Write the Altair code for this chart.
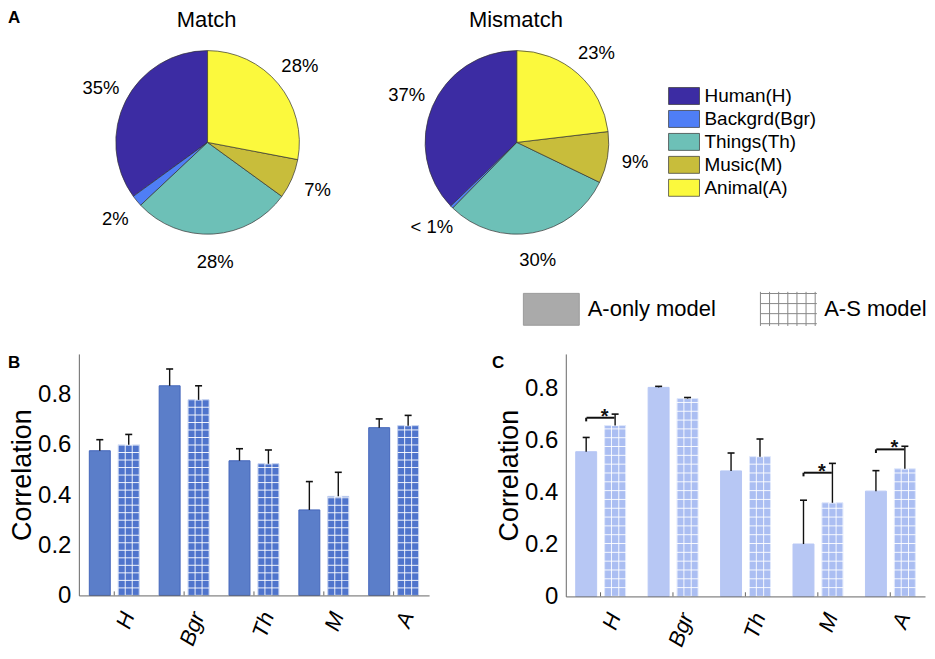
import altair as alt
import pandas as pd

FONT = "Liberation Sans"

# ---------------- Panel A data ----------------
pie_titles = ["Match", "Mismatch"]
panel_letters = ["A", "B", "C"]
pie_cats = ["Human(H)", "Backgrd(Bgr)", "Things(Th)", "Music(M)", "Animal(A)"]
pie_colors = ["#3c2ca3", "#4f7ef6", "#6dc0b7", "#c8bd3b", "#fbf93d"]
pie_order = [4, 3, 2, 1, 0]  # clockwise from 12 o'clock: Animal first
match_vals = [35, 2, 28, 7, 28]
match_labels = ["35%", "2%", "28%", "7%", "28%"]
mismatch_vals = [37, 0.5, 30, 9, 23]
mismatch_labels = ["37%", "< 1%", "30%", "9%", "23%"]

# ---------------- Panels B / C data ----------------
cats = ["H", "Bgr", "Th", "M", "A"]
models = ["A-only model", "A-S model"]
b_aonly = [0.577, 0.836, 0.537, 0.341, 0.669]
b_aonly_err = [0.621, 0.903, 0.585, 0.454, 0.704]
b_as = [0.601, 0.780, 0.525, 0.395, 0.677]
b_as_err = [0.642, 0.836, 0.580, 0.491, 0.718]
c_aonly = [0.558, 0.806, 0.484, 0.202, 0.406]
c_aonly_err = [0.613, 0.810, 0.553, 0.371, 0.485]
c_as = [0.659, 0.763, 0.539, 0.361, 0.492]
c_as_err = [0.703, 0.767, 0.607, 0.513, 0.579]
sig_cats = ["H", "M", "A"]
sig_levels = [0.689, 0.477, 0.567]
y_ticks = [0, 0.2, 0.4, 0.6, 0.8]

RECT_PATH = "M-1,-0.57H1V0.57H-1Z"
GRID_PATH = ("M-0.98,-0.54H1.04M-0.98,-0.18H1.04M-0.98,0.18H1.04M-0.98,0.54H1.04"
             "M-0.98,-0.6V0.62M-0.653,-0.6V0.62M-0.327,-0.6V0.62M0,-0.6V0.62"
             "M0.327,-0.6V0.62M0.653,-0.6V0.62M0.98,-0.6V0.62")
PIE_BOX = "M-1.8235,-1H1.8235V1H-1.8235Z"

TITLE_Y = -345  # top of the pie titles, relative to the bar panels' origin


def text_layer(txt, x, y, size, weight="normal", align="center", baseline="top"):
    return alt.Chart(pd.DataFrame({"t": [txt]})).mark_text(
        font=FONT, fontSize=size, fontWeight=weight, color="black", align=align,
        baseline=baseline).encode(text="t:N", x=alt.value(x), y=alt.value(y))


def pie(vals, labels, cx, cy, title, legend):
    df = pd.DataFrame({"cat": pie_cats, "val": vals, "lab": labels, "ord": pie_order})
    base = alt.Chart(df).encode(
        theta=alt.Theta("val:Q", stack=True),
        order=alt.Order("ord:Q", sort="ascending"),
        x=alt.value(cx), y=alt.value(cy),
    )
    arc = base.mark_arc(outerRadius=92, stroke="#333333", strokeWidth=0.7).encode(
        color=alt.Color("cat:N", scale=alt.Scale(domain=pie_cats, range=pie_colors),
                        legend=legend))
    txt = base.mark_text(radius=120, font=FONT, fontSize=18.5, color="black").encode(
        text="lab:N")
    ttl = text_layer(title, cx - 1, TITLE_Y, 22)
    return [arc, txt, ttl]


pie_legend = alt.Legend(orient="none", legendX=109, legendY=-268, title=None,
                        symbolType=PIE_BOX, symbolSize=289, symbolStrokeColor="#333333",
                        symbolStrokeWidth=0.7, labelFont=FONT, labelFontSize=19,
                        labelColor="black", labelOffset=11, rowPadding=2, padding=0)

model_legend = alt.Legend(orient="none", legendX=-43, legendY=-74, direction="horizontal",
                          title=None, symbolSize=3136, symbolStrokeWidth=1,
                          labelFont=FONT, labelFontSize=22, labelColor="black",
                          labelOffset=8, columnPadding=42, padding=0)
model_layer = alt.Chart(pd.DataFrame({"model": models})).transform_filter("false").mark_point(
    opacity=1).encode(
    shape=alt.Shape("model:N", scale=alt.Scale(domain=models, range=[RECT_PATH, GRID_PATH]),
                    legend=model_legend),
    fill=alt.Fill("model:N", scale=alt.Scale(domain=models, range=["#aaaaaa", "transparent"]),
                  legend=model_legend),
    stroke=alt.Stroke("model:N", scale=alt.Scale(domain=models, range=["#9a9a9a", "#888888"]),
                      legend=model_legend),
)


# ---------------- Panels B / C ----------------
def panel(a, a_err, s, s_err, w, h, ymax, pin, pout, opin, bw, fills, strokes, cell,
          grid_step, letter, letter_x, extra, brackets=None):
    rows = []
    for i, c in enumerate(cats):
        rows.append({"cat": c, "model": models[0], "value": a[i], "err": a_err[i]})
        rows.append({"cat": c, "model": models[1], "value": s[i], "err": s_err[i]})
    df = pd.DataFrame(rows)

    xaxis = alt.Axis(title=None, labelAngle=290, labelAlign="right", labelBaseline="middle",
                     labelFont=FONT, labelFontSize=22, labelFontStyle="italic",
                     labelColor="black", labelPadding=17, labelOffset=14, ticks=False,
                     domainColor="#666666", domainWidth=1, zindex=1)
    yaxis = alt.Axis(title="Correlation", values=y_ticks, format="~g", labelFont=FONT,
                     labelFontSize=24, labelColor="black", labelPadding=8, titleFont=FONT,
                     titleFontSize=27, titleFontWeight="normal", titleColor="black",
                     titlePadding=1, ticks=False, grid=False, domainColor="#666666",
                     domainWidth=1, zindex=1)
    yscale = alt.Scale(domain=[0, ymax], nice=False, zero=True)
    xenc = alt.X("cat:N", sort=cats,
                 scale=alt.Scale(domain=cats, paddingInner=pin, paddingOuter=pout), axis=xaxis)
    xoff = alt.XOffset("model:N", sort=models,
                       scale=alt.Scale(domain=models, paddingInner=opin, paddingOuter=0))

    def Y(field):
        return alt.Y(field, scale=yscale, axis=yaxis)

    is_aonly = alt.datum.model == models[0]
    base = alt.Chart(df)
    bars = base.mark_bar(strokeWidth=1).encode(
        x=xenc, xOffset=xoff, y=Y("value:Q"),
        fill=alt.condition(is_aonly, alt.value(fills[0]), alt.value(fills[1])),
        stroke=alt.condition(is_aonly, alt.value(strokes[0]), alt.value(strokes[1])),
    )
    as_only = base.transform_filter(alt.datum.model == models[1])
    vgrid = as_only.mark_bar(width=bw / 3, fillOpacity=0, stroke="white", strokeWidth=1,
                             strokeOpacity=0.9).encode(x=xenc, xOffset=xoff, y=Y("value:Q"))
    hgrid = as_only.transform_calculate(
        seq=f"sequence({grid_step}, datum.value, {grid_step})").transform_flatten(
        ["seq"]).mark_tick(orient="horizontal", size=bw, thickness=1, color="white",
                           opacity=0.9).encode(x=xenc, xOffset=xoff, y=Y("seq:Q"))
    err = base.mark_rule(color="#111111", strokeWidth=1.4).encode(
        x=xenc, xOffset=xoff, y=Y("value:Q"), y2="err:Q")
    caps = base.mark_tick(orient="horizontal", size=7, thickness=1.6, color="#111111",
                          opacity=1).encode(x=xenc, xOffset=xoff, y=Y("err:Q"))
    cat_ticks = alt.Chart(pd.DataFrame({"cat": cats})).mark_rule(
        color="#666666", strokeWidth=1).encode(
        x=xenc, y=alt.YDatum(0, scale=yscale, axis=yaxis), y2=alt.Y2Datum(0.016))
    let = text_layer(letter, letter_x, 9, 17, weight="bold", align="left", baseline="middle")
    layers = [bars, vgrid, hgrid, cat_ticks, err, caps]
    if brackets is not None:
        sdf = pd.DataFrame({"cat": brackets[0], "level": brackets[1], "model": models[0]})
        sb = alt.Chart(sdf)
        br = sb.mark_tick(orient="horizontal", size=cell, thickness=2, color="#111111",
                          opacity=1).encode(x=xenc, y=Y("level:Q"))
        hook = sb.transform_calculate(hook="datum.level - 0.014").mark_rule(
            color="#111111", strokeWidth=2).encode(
            x=xenc, xOffset=xoff, y=Y("level:Q"), y2="hook:Q")
        star = sb.mark_text(text="*", font=FONT, fontSize=20, fontWeight="bold",
                            color="#111111", dx=4, dy=-1).encode(x=xenc, y=Y("level:Q"))
        layers += [br, hook, star]
    layers.append(let)
    layers += extra
    return alt.layer(*layers).resolve_scale(theta="independent").properties(width=w, height=h)


extra_b = pie(match_vals, match_labels, 129, -212, pie_titles[0], None) + [
    text_layer(panel_letters[0], -71, TITLE_Y, 17, weight="bold", align="left")]
extra_c = pie(mismatch_vals, mismatch_labels, -49, -212, pie_titles[1], pie_legend) + [
    model_layer]

panel_b = panel(b_aonly, b_aonly_err, b_as, b_as_err, 351, 242, 0.963, 0.286, 0.15, 0.276,
                21, ["#5b7ec9", "#4f74cc"], ["#4466bb", "#c3d1f0"], 29, 0.03,
                panel_letters[1], -71, extra_b)
panel_c = panel(c_aonly, c_aonly_err, c_as, c_as_err, 360, 243, 0.935, 0.315, 0.137, 0.214,
                22, ["#b7c7f4", "#abbef2"], ["#b7c7f4", "#dfe7fb"], 28, 0.034,
                panel_letters[2], -74, extra_c, brackets=(sig_cats, sig_levels))

RES = dict(color="independent", fill="independent", stroke="independent",
           shape="independent")
chart = alt.hconcat(panel_b, panel_c, spacing=-41).resolve_scale(**RES).resolve_legend(
    **RES).configure_view(stroke=None).properties(padding=0)

chart.save("out.html", embed_options={"renderer": "svg", "actions": False})
